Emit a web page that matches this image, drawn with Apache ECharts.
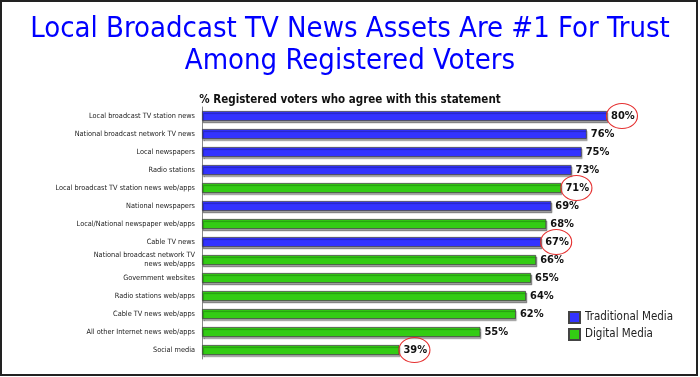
<!DOCTYPE html>
<html>
<head>
<meta charset="utf-8">
<script src="https://cdn.jsdelivr.net/npm/echarts@6/dist/echarts.min.js"></script>
<style>
  html, body { margin: 0; padding: 0; background: #fff; }
  #chart { width: 700px; height: 377px; }
</style>
</head>
<body>
<div id="chart"></div>
<script>
// categories top to bottom
const categories = [
  "Local broadcast TV station news",
  "National broadcast network TV news",
  "Local newspapers",
  "Radio stations",
  "Local broadcast TV station news web/apps",
  "National newspapers",
  "Local/National newspaper web/apps",
  "Cable TV news",
  "National broadcast network TV\nnews web/apps",
  "Government websites",
  "Radio stations web/apps",
  "Cable TV news web/apps",
  "All other Internet news web/apps",
  "Social media"
];
const values = [80, 76, 75, 73, 71, 69, 68, 67, 66, 65, 64, 62, 55, 39];
// T = traditional media, D = digital media
const mediaType = ["T", "T", "T", "T", "D", "T", "D", "T", "D", "D", "D", "D", "D", "D"];
const circled = [
  "Local broadcast TV station news",
  "Local broadcast TV station news web/apps",
  "Cable TV news",
  "Social media"
];

const FONT = "'DejaVu Sans Condensed', 'DejaVu Sans', sans-serif";
const BLUE = "#3333FF";
const GREEN = "#33CC14";

const chart = echarts.init(document.getElementById("chart"));

function makeSeries(name, type, color) {
  const data = values.map((v, i) => (mediaType[i] === type ? v : "-"));
  const marks = categories
    .map((c, i) => ({ c, i }))
    .filter(o => mediaType[o.i] === type && circled.indexOf(o.c) >= 0)
    .map(o => ({ coord: [values[o.i], o.c] }));
  return {
    name: name,
    type: "bar",
    barWidth: 10,
    barGap: "-100%",
    data: data,
    itemStyle: {
      color: color,
      borderColor: "#444",
      borderWidth: 0.8,
      shadowColor: "rgba(0,0,0,0.35)",
      shadowOffsetX: 1,
      shadowOffsetY: 2,
      shadowBlur: 1
    },
    label: {
      show: true,
      position: "right",
      distance: 4,
      formatter: "{c}%",
      fontFamily: FONT,
      fontWeight: "bold",
      fontSize: 11,
      color: "#111"
    },
    markPoint: {
      symbol: "circle",
      symbolSize: [31, 25],
      symbolOffset: [15, 0],
      silent: true,
      label: { show: false },
      itemStyle: { color: "rgba(0,0,0,0)", borderColor: "#e53030", borderWidth: 1 },
      data: marks
    }
  };
}

const option = {
  animation: false,
  title: [
    {
      text: "Local Broadcast TV News Assets Are #1 For Trust\nAmong Registered Voters",
      left: "center",
      top: 8,
      textStyle: {
        fontFamily: FONT,
        fontWeight: "normal",
        fontSize: 29,
        lineHeight: 32,
        color: "#0000FF"
      }
    },
    {
      text: "% Registered voters who agree with this statement",
      left: "center",
      top: 89,
      textStyle: {
        fontFamily: FONT,
        fontWeight: "bold",
        fontSize: 11.5,
        color: "#111"
      }
    }
  ],
  legend: {
    orient: "vertical",
    left: 568,
    top: 311,
    padding: 0,
    itemWidth: 11,
    itemHeight: 11,
    itemGap: 4,
    icon: "rect",
    textStyle: { fontFamily: FONT, fontSize: 11.5, color: "#222" },
    data: ["Traditional Media", "Digital Media"]
  },
  grid: { left: 202, top: 107, width: 405, height: 252 },
  xAxis: {
    type: "value",
    min: 0,
    max: 80,
    show: false
  },
  yAxis: {
    type: "category",
    inverse: true,
    data: categories,
    axisLine: { lineStyle: { color: "#888", width: 1 } },
    axisTick: { show: false },
    axisLabel: {
      fontFamily: FONT,
      fontSize: 7.3,
      color: "#222",
      margin: 7,
      lineHeight: 9
    }
  },
  graphic: [
    {
      type: "rect",
      shape: { x: 1, y: 1, width: 696, height: 374 },
      style: { fill: "none", stroke: "#222", lineWidth: 2 },
      silent: true
    }
  ],
  series: [
    makeSeries("Traditional Media", "T", BLUE),
    makeSeries("Digital Media", "D", GREEN)
  ]
};

chart.setOption(option);
window.addEventListener("resize", () => chart.resize());
</script>
</body>
</html>
